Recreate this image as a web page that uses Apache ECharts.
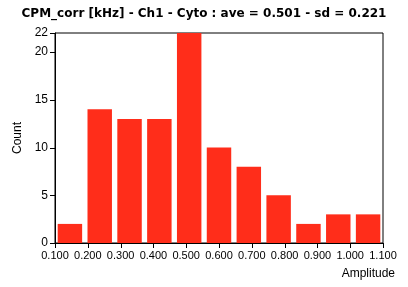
<!DOCTYPE html>
<html><head><meta charset="utf-8">
<script src="https://cdn.jsdelivr.net/npm/echarts@6/dist/echarts.min.js"></script>
<style>html,body{margin:0;padding:0;background:#fff}#c{width:408px;height:287px}</style>
</head><body><div id="c"></div>
<script>
const title = "CPM_corr [kHz] - Ch1 - Cyto : ave = 0.501 - sd = 0.221";
const binMin = 0.1, binMax = 1.1;
const counts = [2, 14, 13, 13, 22, 10, 8, 5, 2, 3, 3];
const xTicks = [0.1,0.2,0.3,0.4,0.5,0.6,0.7,0.8,0.9,1.0,1.1];
const yTicks = [0,5,10,15,20,22];
const xTickStep = 0.1;
const yMax = 22, yTickStep = 5;

const w = (binMax - binMin) / counts.length;
const data = counts.map((c, i) => [binMin + i * w, binMin + (i + 1) * w, c]);
const font = "Liberation Sans";
const chart = echarts.init(document.getElementById('c'), null, {renderer:'canvas'});
chart.setOption({
  animation:false,
  title:{text:title,left:'center',top:3,textStyle:{fontFamily:"DejaVu Sans",fontSize:12,fontWeight:'bold',color:'#000'}},
  grid:{left:55,right:25,top:33,bottom:44,show:true,borderColor:'#000',borderWidth:1,backgroundColor:'transparent'},
  xAxis:{type:'value',min:binMin,max:binMax,interval:xTickStep,
    name:'Amplitude',nameLocation:'end',nameGap:0,
    nameTextStyle:{fontFamily:font,fontSize:12,color:'#000',verticalAlign:'top',align:'right',padding:[25,-12,0,0]},
    axisLine:{show:true,onZero:false,lineStyle:{color:'#000'}},
    axisTick:{show:false},
    axisLabel:{showMinLabel:true,showMaxLabel:true,formatter:v=>v.toFixed(3),fontFamily:font,fontSize:11,color:'#000',margin:7},
    splitLine:{show:false}},
  yAxis:{type:'value',min:0,max:yMax,interval:yTickStep,
    name:'Count',nameLocation:'middle',nameGap:26,nameRotate:90,
    nameTextStyle:{fontFamily:font,fontSize:12,color:'#000'},
    axisLine:{show:true,onZero:false,lineStyle:{color:'#000'}},
    axisTick:{show:false},
    axisLabel:{showMinLabel:true,showMaxLabel:true,fontFamily:font,fontSize:12,color:'#000',margin:7},
    splitLine:{show:false}},
  series:[
    {type:'custom',data:data,encode:{x:[0,1],y:2},
    renderItem:function(params,api){
      const s=api.coord([api.value(0),api.value(2)]);
      const e=api.coord([api.value(1),0]);
      const full=e[0]-s[0];
      const bw=full*0.82;
      const x=s[0]+(full-bw)/2;
      return {type:'rect',shape:{x:x,y:s[1],width:bw,height:e[1]-s[1]},style:{fill:'#ff2d1a',stroke:null,lineWidth:0}};
    }},
    {type:'custom',clip:false,silent:true,data:yTicks.map(v=>[binMin,v]),encode:{x:0,y:1},
    renderItem:function(params,api){
      const p=api.coord([binMin,api.value(1)]);
      const y=Math.round(p[1])+0.5;
      return {type:'line',shape:{x1:p[0]-5,y1:y,x2:p[0],y2:y},style:{stroke:'#000',lineWidth:1}};
    }},
    {type:'custom',clip:false,silent:true,data:xTicks.map(v=>[v,0]),encode:{x:0,y:1},
    renderItem:function(params,api){
      const p=api.coord([api.value(0),0]);
      const x=Math.round(p[0])+0.5;
      return {type:'line',shape:{x1:x,y1:p[1],x2:x,y2:p[1]+5},style:{stroke:'#000',lineWidth:1}};
    }}
  ]
});
</script></body></html>
